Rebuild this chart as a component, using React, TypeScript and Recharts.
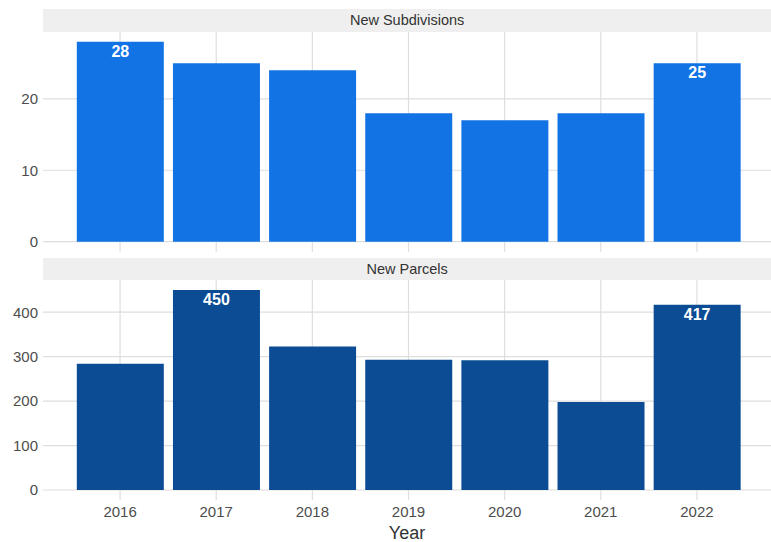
import React from 'react';
import { BarChart, Bar, XAxis, YAxis, CartesianGrid, LabelList, Label } from 'recharts';

const years = ['2016', '2017', '2018', '2019', '2020', '2021', '2022'];
const newSubdivisions = [28, 25, 24, 18, 17, 18, 25];
const newParcels = [284, 450, 323, 293, 292, 198, 417];
const subdivisionTicks = [0, 10, 20];
const parcelTicks = [0, 100, 200, 300, 400];
const panelTitles = ['New Subdivisions', 'New Parcels'];
const xAxisTitle = 'Year';

// label the tallest bar and the latest bar, as in the reference
const labelFor = (vals: number[], i: number) =>
  i === vals.length - 1 || vals[i] === Math.max(...vals) ? vals[i] : undefined;

const topData = years.map((y, i) => ({ year: y, value: newSubdivisions[i], label: labelFor(newSubdivisions, i) }));
const bottomData = years.map((y, i) => ({ year: y, value: newParcels[i], label: labelFor(newParcels, i) }));

const FONT = '"Liberation Sans", Arial, Helvetica, sans-serif';
const GRID = '#dedede';
const TICK = { fill: '#4d4d4d', fontSize: 15, fontFamily: FONT };

const stripStyle = (top: number, height: number): React.CSSProperties => ({
  position: 'absolute',
  left: 43.3,
  top,
  width: 727.7,
  height,
  background: '#efefef',
  color: '#333',
  fontSize: 14.5,
  fontFamily: FONT,
  lineHeight: `${height}px`,
  textAlign: 'center',
});

const expand = (max: number) => [-max * 0.05, max * 1.05];

export default function App() {
  const topMax = Math.max(...newSubdivisions);
  const botMax = Math.max(...newParcels);
  return (
    <div style={{ position: 'absolute', left: 0, top: 0, width: 771, height: 542, background: '#fff', fontFamily: FONT }}>
      <div style={{ position: 'absolute', left: 0, top: 0 }}>
        <BarChart width={771} height={260} data={topData} margin={{ top: 31.7, right: 0, bottom: 8.3, left: 0 }} barCategoryGap="5%">
          <CartesianGrid stroke={GRID} strokeWidth={1.2} syncWithTicks />
          <XAxis dataKey="year" hide padding={{ left: 29, right: 26 }} />
          <YAxis
            width={43}
            domain={expand(topMax)}
            allowDataOverflow
            ticks={subdivisionTicks}
            tick={TICK}
            tickLine={false}
            axisLine={false}
            tickSize={3}
            tickMargin={2}
          />
          <Bar dataKey="value" fill="#1273e5" isAnimationActive={false}>
            <LabelList dataKey="label" position="insideTop" offset={4} fill="#fff" fontSize={16} fontWeight="bold" fontFamily={FONT} />
          </Bar>
        </BarChart>
      </div>
      <div style={{ position: 'absolute', left: 0, top: 250 }}>
        <BarChart width={771} height={292} data={bottomData} margin={{ top: 30, right: 0, bottom: 0, left: 0 }} barCategoryGap="5%">
          <CartesianGrid stroke={GRID} strokeWidth={1.2} syncWithTicks />
          <XAxis
            dataKey="year"
            height={42}
            padding={{ left: 29, right: 26 }}
            tick={TICK}
            tickLine={false}
            axisLine={false}
            tickSize={4}
            tickMargin={2}
          >
            <Label value={xAxisTitle} position="insideBottom" offset={3} fill="#333" fontSize={18} fontFamily={FONT} />
          </XAxis>
          <YAxis
            width={43}
            domain={expand(botMax)}
            allowDataOverflow
            ticks={parcelTicks}
            tick={TICK}
            tickLine={false}
            axisLine={false}
            tickSize={3}
            tickMargin={2}
          />
          <Bar dataKey="value" fill="#0b4c94" isAnimationActive={false}>
            <LabelList dataKey="label" position="insideTop" offset={4} fill="#fff" fontSize={16} fontWeight="bold" fontFamily={FONT} />
          </Bar>
        </BarChart>
      </div>
      <div style={stripStyle(9, 22.7)}>{panelTitles[0]}</div>
      <div style={stripStyle(257.7, 22.3)}>{panelTitles[1]}</div>
    </div>
  );
}
